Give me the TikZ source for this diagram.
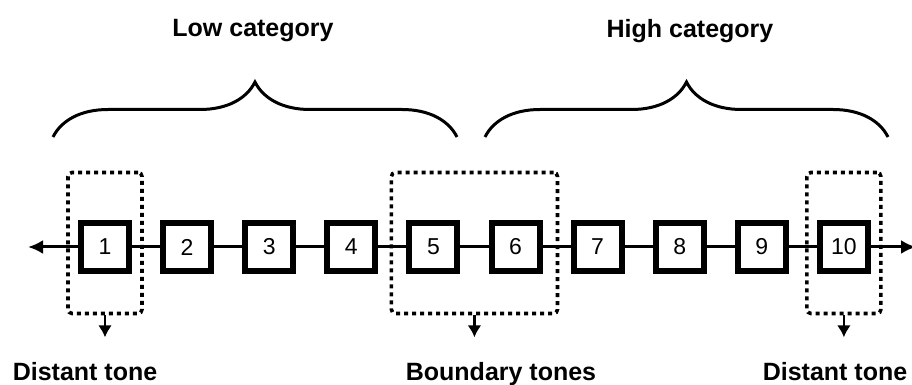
\documentclass[tikz,border=0pt]{standalone}
\usepackage{fontspec}
\setmainfont{Liberation Sans}
\usetikzlibrary{arrows.meta,fit,decorations.pathreplacing}

\begin{document}
\begin{tikzpicture}[
    x=0.5pt, y=-0.5pt,
    tone/.style={draw, line width=3pt, fill=white, minimum size=24pt, inner sep=0pt, font=\fontsize{11.5}{13}\selectfont},
    group/.style={draw, line width=1.8pt, dash pattern=on 2pt off 2pt, rounded corners=2pt, inner ysep=21.75pt},
    cat/.style={font=\fontsize{12.5}{15}\selectfont\bfseries, anchor=base},
    brace/.style={decorate, decoration={brace, amplitude=27.5pt}, line width=1.5pt},
    link/.style={line width=1.5pt},
    down/.style={-{Latex[length=6pt,width=7pt]}, line width=1.2pt}
]
\useasboundingbox (0,0) rectangle (912,385);

% Category labels
\node[cat] (low) at (253, 37) {Low category};
\node[cat] (high) at (690, 38) {High category};

% Braces
\draw[brace] (53, 137) -- (457, 137);
\draw[brace] (485, 137) -- (888, 137);

% Continuum ends
\coordinate (lend) at (28, 247);
\coordinate (rend) at (916, 247);

% Tone boxes
\foreach \i in {1,...,10} {
    \node[tone] (t\i) at ({105+82.1*(\i-1)}, 247) {\i};
}

% Connectors
\draw[link, -{Latex[length=7.5pt,width=7pt]}] (t1) -- (lend);
\draw[link, -{Latex[length=7.5pt,width=7pt]}] (t10) -- (rend);
\foreach \i [evaluate=\i as \j using int(\i+1)] in {1,...,9} {
    \draw[link] (t\i) -- (t\j);
}

% Dotted groups
\node[group, fit=(t1), inner xsep=5pt, yshift=2pt] (g1) {};
\node[group, fit=(t5) (t6), inner xsep=7.5pt, yshift=2pt] (g56) {};
\node[group, fit=(t10), inner xsep=5pt, yshift=2pt] (g10) {};

% Down arrows
\coordinate (d1) at ([yshift=-11pt]g1.south);
\coordinate (d56) at ([yshift=-11pt]g56.south);
\coordinate (d10) at ([yshift=-11pt]g10.south);
\draw[down] (g1) -- (d1);
\draw[down] (g56) -- (d56);
\draw[down] (g10) -- (d10);

% Bottom labels
\node[cat] (dl) at (85, 380) {Distant tone};
\node[cat] (bt) at (501, 380) {Boundary tones};
\node[cat] (dr) at (835, 380) {Distant tone};

\end{tikzpicture}
\end{document}
